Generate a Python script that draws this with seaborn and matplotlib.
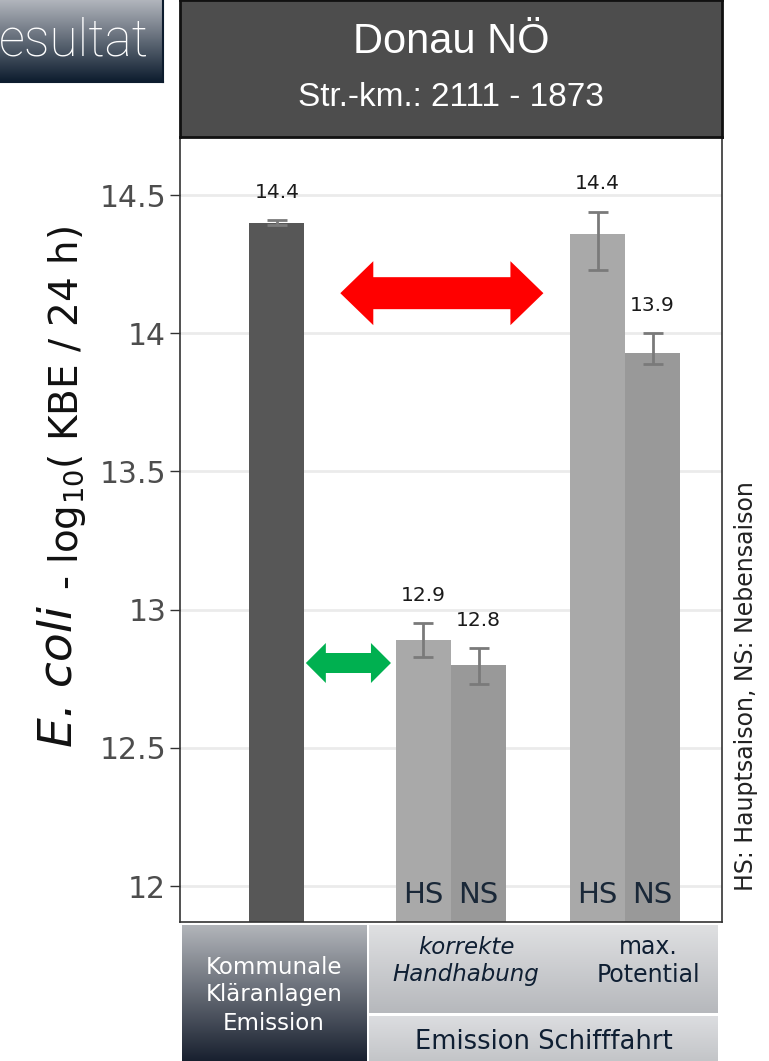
import numpy as np
import pandas as pd
import seaborn as sns
import matplotlib.pyplot as plt
from matplotlib.patches import Polygon
from matplotlib.colors import LinearSegmentedColormap

# data
groups = ["Kommunale", "korrekte", "max"]
seasons = ["HS", "NS"]

komm_mean = [14.40]
komm_lo = [14.39]
komm_hi = [14.41]
komm_labels = ["14.4"]

ship_group = ["korrekte", "korrekte", "max", "max"]
ship_season = ["HS", "NS", "HS", "NS"]
ship_mean = [12.89, 12.80, 14.36, 13.93]
ship_lo = [12.83, 12.73, 14.23, 13.89]
ship_hi = [12.95, 12.86, 14.44, 14.00]
ship_labels = ["12.9", "12.8", "14.4", "13.9"]

y_ticks = [12, 12.5, 13, 13.5, 14, 14.5]
y_ticklabels = ["12", "12.5", "13", "13.5", "14", "14.5"]

W, H = 769, 1061

sns.set_style("white")
plt.rcParams["font.family"] = ["DejaVu Sans"]

fig = plt.figure(figsize=(W / 100, H / 100), dpi=100)


def px_axes(x0, y0, x1, y1):
    return fig.add_axes([x0 / W, 1 - y1 / H, (x1 - x0) / W, (y1 - y0) / H])


def ftext(x, y, s, **kw):
    return fig.text(x / W, 1 - y / H, s, **kw)


def grad_box(x0, y0, x1, y1, top, bottom, edge=None):
    a = px_axes(x0, y0, x1, y1)
    cmap = LinearSegmentedColormap.from_list("g", [top, bottom])
    a.imshow(np.linspace(0, 1, 256).reshape(-1, 1), aspect="auto", cmap=cmap,
             extent=[0, 1, 0, 1])
    a.set_xticks([])
    a.set_yticks([])
    for sp in a.spines.values():
        if edge:
            sp.set_color(edge)
            sp.set_linewidth(1.5)
        else:
            sp.set_visible(False)
    return a


# main panel
ax = px_axes(180, 137, 722, 922)
komm = pd.DataFrame({"group": ["Kommunale"], "value": komm_mean})
ship = pd.DataFrame({"group": ship_group, "season": ship_season, "value": ship_mean})

sns.barplot(data=komm, x="group", y="value", order=groups, color="#575757",
            width=0.316, errorbar=None, saturation=1, linewidth=0, ax=ax, zorder=2)
sns.barplot(data=ship, x="group", y="value", hue="season", order=groups,
            hue_order=seasons, palette={"HS": "#a9a9a9", "NS": "#999999"},
            width=0.632, gap=0, errorbar=None, saturation=1, legend=False,
            linewidth=0, ax=ax, zorder=2)

ax.set_xlim(-0.557, 2.557)
ax.set_ylim(11.87, 14.71)
ax.set_yticks(y_ticks)
ax.set_yticklabels(y_ticklabels)
ax.set_xticks([])
ax.set_xlabel("")
ax.set_ylabel("")
ax.grid(axis="y", color="#ebebeb", linewidth=2, zorder=0)
ax.set_axisbelow(True)
for sp in ax.spines.values():
    sp.set_color("#333333")
    sp.set_linewidth(1.2)
ax.tick_params(axis="y", left=True, length=7, width=1, color="#333333",
               labelsize=21.5, labelcolor="#4d4d4d", pad=3)

means = komm_mean + ship_mean
los = komm_lo + ship_lo
his = komm_hi + ship_hi
labels = komm_labels + ship_labels
bars = sorted([p for p in ax.patches if p.get_height() > 0], key=lambda p: p.get_x())
for i, p in enumerate(bars):
    xc = p.get_x() + p.get_width() / 2
    ax.errorbar(xc, means[i], yerr=[[means[i] - los[i]], [his[i] - means[i]]],
                color="#7a7a7a", elinewidth=2, capsize=7, capthick=2, zorder=3)
    ax.text(xc, his[i] + 0.10, labels[i], ha="center", va="center",
            fontsize=14.5, color="#1a1a1a", zorder=4)
    if i > 0:
        ax.text(xc, 11.967, ship_season[i - 1], ha="center", va="center",
                fontsize=21, color="#1a2838", zorder=4)

# double arrows (sizes in pixels converted to data units)
sx = (2.557 + 0.557) / 542
sy = (14.71 - 11.87) / 785


def double_arrow(x0, x1, yc, shaft, head, hlen, color):
    s, h, L = shaft / 2 * sy, head / 2 * sy, hlen * sx
    verts = [(x0, yc), (x0 + L, yc + h), (x0 + L, yc + s), (x1 - L, yc + s),
             (x1 - L, yc + h), (x1, yc), (x1 - L, yc - h), (x1 - L, yc - s),
             (x0 + L, yc - s), (x0 + L, yc - h)]
    ax.add_patch(Polygon(verts, closed=True, color=color, zorder=5, lw=0))


double_arrow(0.364, 1.531, 14.145, 32, 64, 33, "#ff0000")
double_arrow(0.166, 0.655, 12.807, 20, 40, 20, "#00b050")

# strip header
strip = px_axes(180, 0, 722, 137)
strip.set_facecolor("#4d4d4d")
strip.set_xticks([])
strip.set_yticks([])
for sp in strip.spines.values():
    sp.set_color("#111111")
    sp.set_linewidth(2)
strip.text(0.5, 1 - 42 / 137, "Donau NÖ", ha="center", va="center", color="white",
           fontsize=30, family="Liberation Sans")
strip.text(0.5, 1 - 97 / 137, "Str.-km.: 2111 - 1873", ha="center", va="center",
           color="white", fontsize=24, family="Liberation Sans")

# top-left button
grad_box(-2, -2, 163, 82, "#b5b9c0", "#0d1c2e", edge="#0d1c2e")
ftext(-1, 56, "esultat", ha="left", va="baseline", color="white", fontsize=37,
      family="Roboto", fontweight="light")

# y label
ftext(72, 747, "E. coli", rotation=90, rotation_mode="anchor", ha="left",
      va="baseline", fontsize=34, style="italic", color="#111111")
ftext(78, 590, "- log$_{10}$( KBE / 24 h)", rotation=90, rotation_mode="anchor",
      ha="left", va="baseline", fontsize=28, color="#111111")

# right note
ftext(746, 686, "HS: Hauptsaison, NS: Nebensaison", rotation=90, ha="center",
      va="center", fontsize=17, color="#222222")

# bottom category boxes
grad_box(182, 925, 367, 1061, "#b2b5ba", "#18202f")
ftext(274, 968, "Kommunale", ha="center", va="center", color="white", fontsize=16.5)
ftext(274, 995, "Kläranlagen", ha="center", va="center", color="white", fontsize=16.5)
ftext(274, 1023, "Emission", ha="center", va="center", color="white", fontsize=16.5)

grad_box(369, 925, 718, 1013, "#dfe0e2", "#b6b8bc")
grad_box(369, 1016, 718, 1061, "#dcdde0", "#c3c5c8")
ftext(466, 947, "korrekte", ha="center", va="center", color="#0f1f33",
      fontsize=16.5, style="italic")
ftext(466, 975, "Handhabung", ha="center", va="center", color="#0f1f33",
      fontsize=16.5, style="italic")
ftext(648, 947, "max.", ha="center", va="center", color="#0f1f33", fontsize=17)
ftext(648, 975, "Potential", ha="center", va="center", color="#0f1f33", fontsize=17)
ftext(544, 1042, "Emission Schifffahrt", ha="center", va="center", color="#0f1f33",
      fontsize=18.5)

fig.savefig("out.png", dpi=100)
